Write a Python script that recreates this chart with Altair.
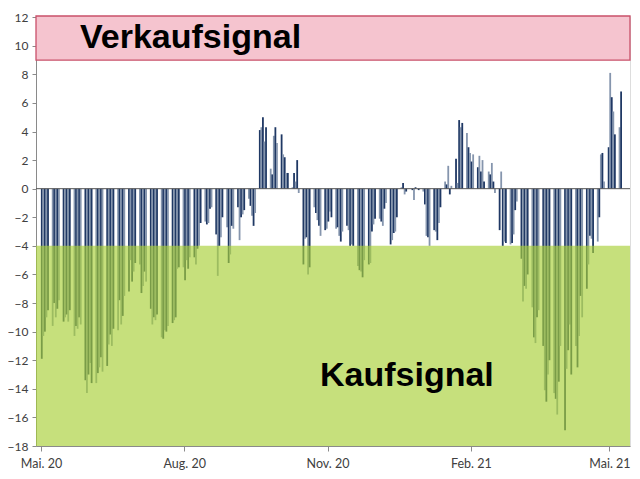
import altair as alt
import pandas as pd

# ---- data (one group of 5 consecutive bars per week) ----
values_mai_jul_2020 = [
    -11.9, -10.3, -10.0, -9.0, -8.5,
    -9.6, -8.0, -9.0, -8.4, -7.8,
    -9.3, -9.0, -8.8, -9.3, -8.5,
    -10.3, -9.6, -9.8, -9.0, -9.5,
    -13.4, -14.3, -13.0, -12.2, -13.6,
    -13.6, -12.9, -12.5, -11.8, -12.8,
    -12.4, -10.9, -10.2, -11.0, -9.8,
    -9.9, -7.8, -9.5, -8.9, -7.5,
    -7.2, -5.0, -6.5, -5.8, -5.2,
    -5.3, -7.3, -6.8, -5.8, -6.5,
    -8.4, -9.5, -9.0, -9.2, -8.8,
    -10.4, -10.5, -9.9, -10.0, -9.6,
    -9.4, -9.2, -9.0, -5.6, -5.5,
]
values_aug_okt_2020 = [
    -5.5, -6.4, -5.0, -5.6, -4.8,
    -4.8, -5.3, -4.2, -4.0, -2.4,
    -2.3, -2.5, -2.4, -1.4, -1.3,
    -3.2, -6.1, -4.0, -3.4, -2.0,
    -2.7, -5.2, -4.6, -2.6, -2.8,
    -1.3, -3.6, -2.0, -1.8, -1.5,
    -0.7, -1.2, -1.9, -2.6, -1.7,
    4.1, 4.3, 5.0, 3.3, 4.3,
    1.4, 1.0, 3.7, 4.3, 3.2,
    3.8, 2.4, 2.2, 1.1, 1.1,
    0.1, 1.1, 0.5, 2.0, -0.3,
    -5.3, -3.5, -3.4, -6.0, -5.5,
    -1.3, -1.7, -2.2, -2.6, -3.3,
]
values_nov_jan_2021 = [
    -2.9, -2.8, -2.3, -1.6, -2.0,
    -2.8, -2.7, -3.3, -3.7, -3.0,
    -2.6, -2.9, -4.0, -3.9, -4.0,
    -5.4, -5.7, -5.8, -6.2, -5.0,
    -5.3, -5.2, -3.0, -2.5, -2.1,
    -2.1, -2.3, -2.6, -1.4, -1.0,
    -3.9, -3.6, -3.1, -3.0, -2.0,
    0.1, 0.4, -0.4, -0.2, 0.0,
    -0.1, -0.8, 0.1, 0.0, -0.1,
    -0.2, -1.1, -3.3, -3.4, -4.0,
    -2.9, -3.0, -3.6, -2.4, -1.3,
    0.5, 0.3, 1.6, -0.4, 0.2,
    2.1, 0.4, 4.8, 4.3, 4.6,
]
values_feb_mai_2021 = [
    3.9, 2.9, 2.5, 1.9, 2.4,
    1.5, 2.3, 1.2, 2.0, 0.5,
    1.2, 1.0, 1.8, 0.5, -0.3,
    -2.9, 1.2, -4.0, -3.7, -3.8,
    -3.9, -3.8, -3.2, -1.5, -0.9,
    -4.9, -7.9, -6.8, -7.0, -6.0,
    -8.3, -10.4, -10.8, -9.0, -8.5,
    -11.0, -14.1, -14.9, -13.0, -12.0,
    -14.3, -14.7, -15.8, -13.5, -11.0,
    -16.9, -12.6, -11.3, -9.5, -13.0,
    -11.0, -12.5, -10.3, -7.5, -9.0,
    -7.0, -5.3, -3.3, -3.5, -4.5,
    -3.7, -2.0, 2.4, 2.5, 0.5,
    2.9, 8.1, 6.4, 5.4, 3.8,
    4.3, 6.8,
]

sell_level = 9
buy_level = -4
tick_years = [(2020, 5), (2020, 8), (2020, 11), (2021, 2), (2021, 5)]
month_names = "['Jan.','Feb.','Mär.','Apr.','Mai.','Jun.','Jul.','Aug.','Sep.','Okt.','Nov.','Dez.']"

values = values_mai_jul_2020 + values_aug_okt_2020 + values_nov_jan_2021 + values_feb_mai_2021
start = pd.Timestamp("2020-05-01 12:00")
dates = [start + pd.Timedelta(days=7 * (i // 5) + (i % 5)) for i in range(len(values))]
df = pd.DataFrame({"date": dates, "value": values, "shade": [i % 2 for i in range(len(values))]})

W, H = 594, 430
YMIN, YMAX = -18, 12.08
yscale = alt.Scale(domain=[YMIN, YMAX], nice=False, zero=False)
xscale = alt.Scale(domain=[alt.DateTime(year=2020, month=5, date=1),
                           alt.DateTime(year=2021, month=5, date=11)])

font = "Lato"
y_axis = alt.Axis(values=list(range(-18, 13, 2)), grid=False, domainColor="#8a8a8a",
                  tickColor="#8a8a8a", tickSize=4, labelFont=font, labelFontSize=12,
                  labelColor="#404040", labelPadding=4, title=None)

bars = alt.Chart(df).mark_bar(size=1.8).encode(
    x=alt.X("date:T", scale=xscale, title=None,
            axis=alt.Axis(values=[alt.DateTime(year=y, month=m, date=1) for y, m in tick_years],
                          labelExpr=month_names + "[month(datum.value)] + ' ' + timeFormat(datum.value, '%y')",
                          grid=False, domainColor="#8a8a8a", tickColor="#8a8a8a", tickSize=5,
                          labelFont=font, labelFontSize=12.5, labelColor="#404040", labelPadding=6)),
    y=alt.Y("value:Q", scale=yscale, title=None, axis=y_axis),
    y2=alt.Y2(datum=0),
    color=alt.Color("shade:N", scale=alt.Scale(domain=[0, 1], range=["#1f3864", "#8595ad"]), legend=None),
)

red_band = alt.Chart().mark_rect(fill="#f5c4cf", stroke="#c9506a", strokeWidth=1.3).encode(
    x=alt.value(0), x2=alt.value(W),
    y=alt.Y(datum=sell_level, scale=yscale, axis=y_axis), y2=alt.Y2(datum=YMAX),
)

green_band = alt.Chart().mark_rect(fill="#a9d038", opacity=0.66).encode(
    x=alt.value(0), x2=alt.value(W),
    y=alt.Y(datum=buy_level, scale=yscale, axis=y_axis), y2=alt.Y2(datum=YMIN),
)

zero_line = alt.Chart().mark_rule(color="#555555", strokeWidth=1).encode(
    x=alt.value(0), x2=alt.value(W), y=alt.Y(datum=0, scale=yscale, axis=y_axis),
)

sell_text = alt.Chart().mark_text(text="Verkaufsignal", font="Liberation Sans", fontWeight="bold",
                                  fontSize=34, align="left", baseline="alphabetic", color="#000000").encode(
    x=alt.value(44), y=alt.value(32))
buy_text = alt.Chart().mark_text(text="Kaufsignal", font="Liberation Sans", fontWeight="bold",
                                 fontSize=34, align="left", baseline="alphabetic", color="#000000").encode(
    x=alt.value(284), y=alt.value(370))

chart = alt.layer(bars, red_band, green_band, zero_line, sell_text, buy_text).properties(
    width=W, height=H,
    autosize=alt.AutoSizeParams(type="none"),
    padding={"left": 28, "top": 8, "right": 2, "bottom": 25},
).configure_view(stroke="#9a9a9a", strokeWidth=1).configure(background="white")

chart.save("out.html", embed_options={"renderer": "svg", "actions": False})
